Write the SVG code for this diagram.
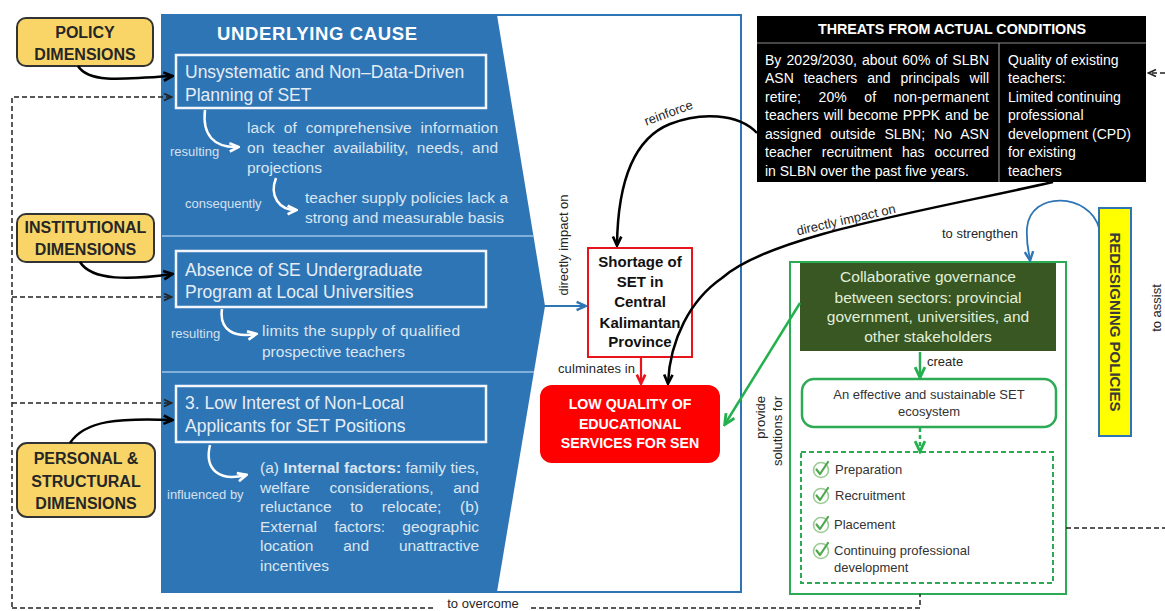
<svg xmlns="http://www.w3.org/2000/svg" width="1165" height="611" viewBox="0 0 1165 611">
<defs>
<style>
text{font-family:"Liberation Sans",Arial,sans-serif}
.bx{font-size:17.5px;fill:#E6EDF5}
.bd{font-size:15.5px;fill:#DCE6F1}
.sm{font-size:13px;fill:#D5E1EE}
.ylw{fill:#F9D567;stroke:#333;stroke-width:2}
.yt{font-size:16px;font-weight:bold;fill:#262626;text-anchor:middle}
.lbl{font-size:13px;fill:#262626}
.dash{fill:none;stroke:#222;stroke-width:1.5;stroke-dasharray:5 3}
.wa{fill:none;stroke:#fff;stroke-width:2.5;marker-end:url(#mW)}
.ka{fill:none;stroke:#000;stroke-width:2.5;marker-end:url(#mK)}
.bt{font-size:14px;fill:#fff}
.gt{font-size:15.5px;fill:#E2EFD9;text-anchor:middle}
.it{font-size:13px;fill:#333}
.wbox{fill:none;stroke:#F2F6FA;stroke-width:2.5}
</style>
<marker id="mK" viewBox="0 0 10 10" refX="8" refY="5" markerWidth="12" markerHeight="12" markerUnits="userSpaceOnUse" orient="auto"><path d="M1,1.5 L8.5,5 L1,8.5" fill="none" stroke="#000" stroke-width="2.2"/></marker>
<marker id="mW" viewBox="0 0 10 10" refX="8" refY="5" markerWidth="12" markerHeight="12" markerUnits="userSpaceOnUse" orient="auto"><path d="M1,1.5 L8.5,5 L1,8.5" fill="none" stroke="#fff" stroke-width="2.2"/></marker>
<marker id="mB" viewBox="0 0 10 10" refX="8" refY="5" markerWidth="12" markerHeight="12" markerUnits="userSpaceOnUse" orient="auto"><path d="M1,1.5 L8.5,5 L1,8.5" fill="none" stroke="#2E75B6" stroke-width="2"/></marker>
<marker id="mR" viewBox="0 0 10 10" refX="8" refY="5" markerWidth="12" markerHeight="12" markerUnits="userSpaceOnUse" orient="auto"><path d="M1,1.5 L8.5,5 L1,8.5" fill="none" stroke="#E8141B" stroke-width="2.2"/></marker>
<marker id="mG" viewBox="0 0 10 10" refX="8" refY="5" markerWidth="14" markerHeight="14" markerUnits="userSpaceOnUse" orient="auto"><path d="M1,1.5 L8.5,5 L1,8.5" fill="none" stroke="#22B14C" stroke-width="2"/></marker>
<marker id="mD" viewBox="0 0 10 10" refX="8" refY="5" markerWidth="10" markerHeight="10" markerUnits="userSpaceOnUse" orient="auto"><path d="M1,1.5 L8.5,5 L1,8.5" fill="none" stroke="#222" stroke-width="1.6"/></marker>
<g id="chk"><circle r="7.5" fill="none" stroke="#9BCB94" stroke-width="1.6"/><path d="M-4.5,-0.5 L-1,4 L7,-8" fill="none" stroke="#4FA84F" stroke-width="2.2" stroke-linecap="round" stroke-linejoin="round"/></g>
</defs>

<rect width="1165" height="611" fill="#fff"/>

<g id="underlying-cause">
<polygon points="162,15 497,15 545,306 497,592 162,592" fill="#2E75B6"/>
<rect x="162" y="15" width="579" height="577" fill="none" stroke="#2E75B6" stroke-width="2"/>
<line x1="162" y1="236" x2="533" y2="236" stroke="#9DC3E6" stroke-width="1.5"/>
<line x1="162" y1="372" x2="534" y2="372" stroke="#9DC3E6" stroke-width="1.5"/>
<text x="317" y="40" text-anchor="middle" font-size="18.5" font-weight="bold" fill="#fff" textLength="200">UNDERLYING  CAUSE</text>
</g>

<g id="cause-1">
<rect class="wbox" x="176" y="55" width="310" height="53"/>
<text class="bx" x="185" y="78">Unsystematic and Non–Data-Driven</text>
<text class="bx" x="185" y="101">Planning of SET</text>
</g>
<g id="cause-1-result">
<path class="wa" d="M205,110 C202,135 214,148 238,147"/>
<text class="sm" x="170" y="156">resulting</text>
<text class="bd" x="247" y="133" word-spacing="4.5" textLength="251" lengthAdjust="spacing">lack of comprehensive information</text>
<text class="bd" x="247" y="153" word-spacing="4.2" textLength="251" lengthAdjust="spacing">on teacher availability, needs, and</text>
<text class="bd" x="247" y="173">projections</text>
<path class="wa" d="M276,178 C269,196 279,210 296,210"/>
<text class="sm" x="185" y="208">consequently</text>
<text class="bd" x="305" y="203" textLength="203" lengthAdjust="spacing">teacher supply policies lack a</text>
<text class="bd" x="305" y="223">strong and measurable basis</text>
</g>

<g id="cause-2">
<rect class="wbox" x="176" y="251" width="310" height="56"/>
<text class="bx" x="185" y="276">Absence of SE Undergraduate</text>
<text class="bx" x="185" y="298">Program at Local Universities</text>
</g>
<g id="cause-2-result">
<path class="wa" d="M222,309 C219,330 234,338 256,334"/>
<text class="sm" x="171" y="338">resulting</text>
<text class="bd" x="262" y="336" textLength="198" lengthAdjust="spacing">limits the supply of qualified</text>
<text class="bd" x="262" y="357">prospective teachers</text>
</g>

<g id="cause-3">
<rect class="wbox" x="176" y="386" width="310" height="56"/>
<text class="bx" x="185" y="409">3. Low Interest of Non-Local</text>
<text class="bx" x="185" y="432">Applicants for SET Positions</text>
</g>
<g id="cause-3-result">
<path class="wa" d="M210,445 C204,470 220,482 246,475"/>
<text class="sm" x="167" y="499">influenced by</text>
<text class="bd" x="260" y="473" textLength="219" lengthAdjust="spacing">(a) <tspan font-weight="bold">Internal factors:</tspan> family ties,</text>
<text class="bd" x="260" y="492.5" word-spacing="15.2" textLength="219" lengthAdjust="spacing">welfare considerations, and</text>
<text class="bd" x="260" y="512" word-spacing="14.4" textLength="219" lengthAdjust="spacing">reluctance to relocate; (b)</text>
<text class="bd" x="260" y="531.5" word-spacing="13" textLength="219" lengthAdjust="spacing">External factors: geographic</text>
<text class="bd" x="260" y="551" word-spacing="25.5" textLength="219" lengthAdjust="spacing">location and unattractive</text>
<text class="bd" x="260" y="570.5">incentives</text>
</g>

<g id="policy-dimensions">
<rect class="ylw" x="17" y="18" width="136" height="48" rx="9"/>
<text class="yt" x="85" y="38">POLICY</text>
<text class="yt" x="85" y="60">DIMENSIONS</text>
</g>
<g id="institutional-dimensions">
<rect class="ylw" x="17" y="214" width="137" height="48" rx="9"/>
<text class="yt" x="85.5" y="233">INSTITUTIONAL</text>
<text class="yt" x="85.5" y="255">DIMENSIONS</text>
</g>
<g id="personal-structural-dimensions">
<rect class="ylw" x="17" y="443" width="138" height="74" rx="10"/>
<text class="yt" x="86" y="464">PERSONAL &amp;</text>
<text class="yt" x="86" y="487">STRUCTURAL</text>
<text class="yt" x="86" y="509">DIMENSIONS</text>
</g>

<g id="shortage">
<rect x="588" y="248" width="104" height="109" fill="#fff" stroke="#E8141B" stroke-width="2"/>
<g font-size="15" font-weight="bold" fill="#111" text-anchor="middle">
<text x="640" y="267">Shortage of</text>
<text x="640" y="287">SET in</text>
<text x="640" y="307">Central</text>
<text x="640" y="328">Kalimantan</text>
<text x="640" y="347">Province</text>
</g>
</g>

<g id="low-quality">
<rect x="540" y="385" width="180" height="78" rx="12" fill="#FF0000"/>
<g font-size="14.2" font-weight="bold" fill="#fff" text-anchor="middle">
<text x="630" y="409">LOW QUALITY OF</text>
<text x="630" y="429">EDUCATIONAL</text>
<text x="630" y="448">SERVICES FOR SEN</text>
</g>
</g>

<g id="threats">
<rect x="757" y="16" width="389" height="166" fill="#000"/>
<line x1="757" y1="43" x2="1146" y2="43" stroke="#8C8C8C" stroke-width="1.2"/>
<line x1="999" y1="43" x2="999" y2="182" stroke="#8C8C8C" stroke-width="1.2"/>
<text x="952" y="34" text-anchor="middle" font-size="14.3" font-weight="bold" fill="#fff">THREATS FROM ACTUAL CONDITIONS</text>
<text class="bt" x="765" y="64.5" word-spacing="1.2" textLength="224" lengthAdjust="spacing">By 2029/2030, about 60% of SLBN</text>
<text class="bt" x="765" y="83" word-spacing="6" textLength="224" lengthAdjust="spacing">ASN teachers and principals will</text>
<text class="bt" x="765" y="101.5" word-spacing="13.7" textLength="224" lengthAdjust="spacing">retire; 20% of non-permanent</text>
<text class="bt" x="765" y="120" word-spacing="1" textLength="224" lengthAdjust="spacing">teachers will become PPPK and be</text>
<text class="bt" x="765" y="138.5" word-spacing="5" textLength="224" lengthAdjust="spacing">assigned outside SLBN; No ASN</text>
<text class="bt" x="765" y="157" word-spacing="6.2" textLength="224" lengthAdjust="spacing">teacher recruitment has occurred</text>
<text class="bt" x="765" y="175.5">in SLBN over the past five years.</text>
<text class="bt" x="1008" y="64.5">Quality of existing</text>
<text class="bt" x="1008" y="83">teachers:</text>
<text class="bt" x="1008" y="101.5">Limited continuing</text>
<text class="bt" x="1008" y="120">professional</text>
<text class="bt" x="1008" y="138.5">development (CPD)</text>
<text class="bt" x="1008" y="157">for existing</text>
<text class="bt" x="1008" y="175.5">teachers</text>
</g>

<g id="redesigning-policies">
<rect x="1099" y="208" width="32" height="228" fill="#FFFF00" stroke="#2E75B6" stroke-width="2"/>
<text transform="translate(1109.5,322) rotate(90)" text-anchor="middle" font-size="15" font-weight="bold" fill="#3A3A3A">REDESIGNING POLICIES</text>
</g>

<g id="solution">
<rect x="790" y="262" width="276" height="332" fill="none" stroke="#2DAA55" stroke-width="2"/>
</g>
<g id="collaborative-governance">
<rect x="800" y="263" width="256" height="88" fill="#385723"/>
<text class="gt" x="928" y="282">Collaborative governance</text>
<text class="gt" x="928" y="303">between sectors: provincial</text>
<text class="gt" x="928" y="322">government, universities, and</text>
<text class="gt" x="928" y="342">other stakeholders</text>
</g>
<g id="ecosystem">
<rect x="802" y="379" width="254" height="48" rx="12" fill="#fff" stroke="#2DAA55" stroke-width="2.5"/>
<text x="929" y="399" text-anchor="middle" font-size="13" fill="#333">An effective and sustainable SET</text>
<text x="929" y="416" text-anchor="middle" font-size="13" fill="#333">ecosystem</text>
</g>
<g id="set-stages">
<rect x="801" y="452" width="252" height="131" fill="none" stroke="#2DAA55" stroke-width="2" stroke-dasharray="5 3"/>
<use href="#chk" x="821" y="470"/>
<use href="#chk" x="821" y="496"/>
<use href="#chk" x="821" y="525"/>
<use href="#chk" x="821" y="551"/>
<text class="it" x="835" y="474">Preparation</text>
<text class="it" x="835" y="500">Recruitment</text>
<text class="it" x="834" y="529">Placement</text>
<text class="it" x="834" y="555">Continuing professional</text>
<text class="it" x="834" y="572">development</text>
</g>

<g id="connectors">
<path class="ka" d="M78,66 C88,82 115,80 172,76"/>
<path class="ka" d="M80,262 C92,281 130,280 172,274"/>
<path class="ka" d="M70,443 C85,420 120,418 172,420"/>
<path class="dash" d="M12,607 L12,97 L171,97" marker-end="url(#mD)"/>
<path class="dash" d="M12,297 L171,297" marker-end="url(#mD)"/>
<path class="dash" d="M12,403 L171,403" marker-end="url(#mD)"/>
<path class="dash" d="M12,608 L435,608 M531,608 L920,608 L920,594"/>
<path class="dash" d="M1066,528 L1165,528"/>
<path class="dash" d="M1165,73 L1149,73" marker-end="url(#mD)"/>
<line x1="543" y1="306" x2="585" y2="306" stroke="#2E75B6" stroke-width="2" marker-end="url(#mB)"/>
<line x1="641" y1="358" x2="641" y2="383" stroke="#E8141B" stroke-width="2.2" marker-end="url(#mR)"/>
<path class="ka" d="M757,133 C738,113 700,112 670,124 C640,136 618,170 617,245"/>
<path class="ka" d="M1053,182 C930,210 770,235 722,278 C690,300 670,340 668,383"/>
<path d="M1099,228 C1090,193 1030,190 1027,228 C1026,245 1029,252 1030,260" fill="none" stroke="#2E75B6" stroke-width="1.8" marker-end="url(#mB)"/>
<line x1="920" y1="352" x2="920" y2="377" stroke="#2DAA55" stroke-width="2.5" marker-end="url(#mG)"/>
<line x1="920" y1="428" x2="920" y2="451" stroke="#2DAA55" stroke-width="2.5" stroke-dasharray="4 3" marker-end="url(#mG)"/>
<line x1="800" y1="303" x2="725" y2="424" stroke="#22B14C" stroke-width="2.5" marker-end="url(#mG)"/>
<text class="lbl" transform="translate(568,245) rotate(-90)" text-anchor="middle" font-size="13.5">directly impact on</text>
<text class="lbl" x="558" y="373" textLength="77">culminates in</text>
<text class="lbl" transform="translate(670,117) rotate(-20)" text-anchor="middle">reinforce</text>
<text class="lbl" transform="translate(847,224) rotate(-13)" text-anchor="middle" font-size="13.5">directly impact on</text>
<text class="lbl" x="942" y="238">to strengthen</text>
<text class="lbl" x="927" y="366">create</text>
<text class="lbl" transform="translate(765,396) rotate(-90)" text-anchor="end">provide</text>
<text class="lbl" transform="translate(782,396) rotate(-90)" text-anchor="end">solutions for</text>
<text class="lbl" x="483" y="608" text-anchor="middle" font-size="16">to overcome</text>
<text class="lbl" transform="translate(1161,308) rotate(-90)" text-anchor="middle" font-size="15">to assist</text>
</g>
</svg>
